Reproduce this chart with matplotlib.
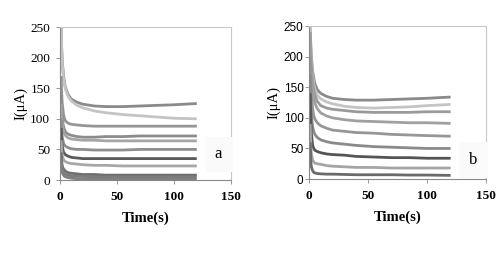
import matplotlib.pyplot as plt

# sample times (s)
t = [1, 1.5, 2, 3, 4, 5, 7, 10, 15, 20, 30, 40, 55, 70, 85, 100, 120]

# panel a curves (uA), top to bottom
a_curves = [
    [250, 215, 195, 172, 158, 150, 140, 132, 127, 124, 121, 120, 120, 121, 122, 123, 125],
    [250, 210, 190, 168, 155, 147, 137, 129, 122, 118, 113, 110, 107, 105, 103, 101, 100],
    [170, 140, 125, 108, 100, 96, 93, 91, 90, 89, 88, 88, 88, 88, 88, 88, 88],
    [140, 115, 100, 88, 82, 78, 75, 73, 71, 70, 70, 71, 71, 72, 72, 72, 72],
    [125, 100, 90, 80, 75, 72, 69, 67, 66, 65, 65, 64, 64, 64, 64, 64, 64],
    [100, 80, 70, 61, 57, 55, 53, 51, 50, 50, 49, 49, 49, 50, 50, 50, 50],
    [85, 65, 55, 46, 43, 41, 39, 37, 36, 35, 35, 35, 35, 35, 35, 35, 35],
    [65, 48, 40, 34, 31, 30, 28, 27, 26, 25, 24, 24, 23, 23, 23, 23, 23],
    [45, 30, 23, 18, 16, 14, 12, 11, 10, 9, 9, 8, 8, 8, 8, 8, 8],
    [35, 22, 16, 12, 10, 9, 8, 7, 6, 6, 5, 5, 5, 5, 5, 5, 5],
    [30, 18, 12, 8, 6, 5, 4, 3, 2, 2, 1, 1, 1, 1, 1, 1, 1],
]
a_colors = ['#8a8a8a', '#c4c4c4', '#959595', '#8c8c8c', '#a5a5a5', '#8f8f8f',
            '#5a5a5a', '#a8a8a8', '#6e6e6e', '#7c7c7c', '#808080']

# panel b curves (uA), top to bottom
b_curves = [
    [250, 220, 200, 178, 165, 156, 146, 140, 135, 132, 130, 129, 129, 130, 131, 132, 134],
    [250, 215, 195, 170, 156, 147, 137, 131, 126, 123, 119, 117, 116, 117, 118, 120, 122],
    [240, 205, 185, 160, 146, 137, 127, 120, 116, 114, 112, 110, 109, 109, 109, 110, 110],
    [230, 190, 170, 145, 132, 124, 115, 108, 103, 100, 97, 95, 94, 93, 92, 92, 91],
    [200, 160, 140, 116, 104, 98, 92, 87, 83, 80, 78, 76, 75, 73, 72, 71, 70],
    [170, 125, 105, 86, 78, 73, 68, 64, 61, 59, 57, 55, 53, 52, 51, 50, 50],
    [140, 95, 75, 56, 50, 47, 45, 43, 41, 40, 39, 37, 36, 35, 35, 34, 34],
    [90, 55, 42, 32, 28, 26, 25, 24, 22, 21, 20, 19, 19, 18, 18, 18, 18],
    [60, 30, 20, 14, 11, 10, 9, 8.5, 8, 8, 7.5, 7, 7, 7, 6.5, 6.5, 6],
]
b_colors = ['#8a8a8a', '#c4c4c4', '#9a9a9a', '#a0a0a0', '#969696', '#8a8a8a',
            '#555555', '#a5a5a5', '#6a6a6a']

xticks = [0, 50, 100, 150]
yticks = [0, 50, 100, 150, 200, 250]

fig = plt.figure(figsize=(5, 2.61), dpi=100)
ax_a = fig.add_axes([0.12, 0.3103, 0.342, 0.586])
ax_b = fig.add_axes([0.618, 0.314, 0.354, 0.586])

serif = 'Liberation Serif'

panels = [
    (ax_a, a_curves, a_colors, 'a', (139, 42), serif, 9.5, 4),
    (ax_b, b_curves, b_colors, 'b', (139, 31), 'Liberation Sans', 8.5, 1),
]

for ax, curves, cols, tag, pos, yfam, ysize, ypad in panels:
    for vals, c in zip(curves, cols):
        ax.plot(t, vals, color=c, lw=2.0, solid_capstyle='butt')
    ax.set_xlim(0, 150)
    ax.set_ylim(0, 250)
    ax.set_xticks(xticks)
    ax.set_yticks(yticks)
    ax.set_xticklabels([str(v) for v in xticks], fontfamily=serif,
                       fontweight='bold', fontsize=9.5)
    ax.set_yticklabels([str(v) for v in yticks], fontfamily=yfam, fontsize=ysize)
    ax.tick_params(axis='x', length=3, width=0.6, color='#888888', pad=5)
    ax.tick_params(axis='y', length=3, width=0.6, color='#888888', pad=ypad)
    for s in ['left', 'bottom']:
        ax.spines[s].set_color('#888888')
        ax.spines[s].set_linewidth(0.8)
    for s in ['top', 'right']:
        ax.spines[s].set_color('#c8c8c8')
        ax.spines[s].set_linewidth(0.8)
    ax.set_xlabel('Time(s)', fontfamily=serif, fontweight='bold', fontsize=10.5,
                  labelpad=6)
    ax.set_ylabel('I(\u03bcA)', fontfamily=serif, fontsize=10.5, labelpad=2)
    ax.text(pos[0], pos[1], tag, fontfamily=serif, fontsize=12, ha='center',
            va='center', bbox=dict(facecolor='#fafafa', edgecolor='none', pad=7))

fig.savefig('out.png', dpi=100)
